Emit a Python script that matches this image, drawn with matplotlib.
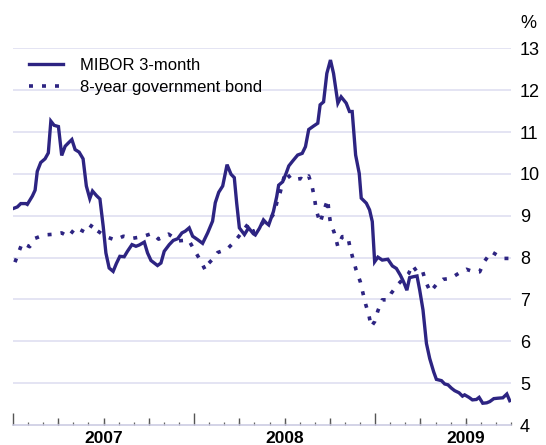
import matplotlib
matplotlib.use("Agg")
import matplotlib.pyplot as plt
from matplotlib.ticker import FixedLocator, NullFormatter

plt.rcParams['font.family'] = ['Liberation Sans', 'DejaVu Sans']

# dates as decimal years, values in %
mibor_t = [2007.000, 2007.024, 2007.043, 2007.070, 2007.079, 2007.107, 2007.122, 2007.134,
           2007.153, 2007.177, 2007.195, 2007.209, 2007.227, 2007.251, 2007.269, 2007.288,
           2007.306, 2007.325, 2007.343, 2007.365, 2007.387, 2007.405, 2007.424, 2007.439,
           2007.461, 2007.480, 2007.498, 2007.513, 2007.531, 2007.553, 2007.571, 2007.590,
           2007.614, 2007.632, 2007.657, 2007.679, 2007.697, 2007.725, 2007.743, 2007.762,
           2007.798, 2007.817, 2007.835, 2007.863, 2007.885, 2007.909, 2007.933, 2007.951,
           2007.973, 2007.992, 2008.019, 2008.047, 2008.075, 2008.102, 2008.117, 2008.136,
           2008.158, 2008.182, 2008.204, 2008.222, 2008.235, 2008.250, 2008.278, 2008.301,
           2008.327, 2008.338, 2008.361, 2008.383, 2008.398, 2008.412, 2008.438, 2008.456,
           2008.467, 2008.489, 2008.508, 2008.523, 2008.545, 2008.572, 2008.597, 2008.615,
           2008.633, 2008.659, 2008.683, 2008.696, 2008.715, 2008.733, 2008.753, 2008.770,
           2008.794, 2008.812, 2008.840, 2008.858, 2008.873, 2008.892, 2008.912, 2008.923,
           2008.951, 2008.969, 2008.984, 2008.997, 2009.015, 2009.039, 2009.070, 2009.095,
           2009.117, 2009.139, 2009.157, 2009.175, 2009.190, 2009.208, 2009.231, 2009.246,
           2009.264, 2009.283, 2009.301, 2009.323, 2009.338, 2009.366, 2009.384, 2009.402,
           2009.421, 2009.439, 2009.463, 2009.482, 2009.494, 2009.518, 2009.537, 2009.559,
           2009.574, 2009.594, 2009.616, 2009.633, 2009.655, 2009.677, 2009.705, 2009.727,
           2009.743]
mibor = [9.17, 9.21, 9.29, 9.29, 9.27, 9.47, 9.61, 10.06,
         10.27, 10.36, 10.50, 11.26, 11.16, 11.13, 10.44, 10.66,
         10.74, 10.82, 10.58, 10.52, 10.36, 9.71, 9.41, 9.59,
         9.48, 9.40, 8.75, 8.11, 7.75, 7.67, 7.86, 8.03,
         8.02, 8.15, 8.31, 8.27, 8.30, 8.37, 8.11, 7.93,
         7.81, 7.87, 8.15, 8.31, 8.41, 8.45, 8.59, 8.63,
         8.71, 8.51, 8.43, 8.34, 8.59, 8.87, 9.31, 9.56,
         9.71, 10.22, 9.99, 9.91, 9.31, 8.71, 8.55, 8.71,
         8.57, 8.54, 8.70, 8.90, 8.83, 8.78, 9.10, 9.45,
         9.73, 9.81, 10.01, 10.19, 10.31, 10.45, 10.49, 10.65,
         11.06, 11.14, 11.21, 11.65, 11.72, 12.40, 12.72, 12.40,
         11.69, 11.84, 11.69, 11.49, 11.49, 10.45, 10.01, 9.42,
         9.30, 9.14, 8.86, 7.90, 8.01, 7.94, 7.96, 7.80,
         7.74, 7.58, 7.42, 7.22, 7.52, 7.54, 7.56, 7.22,
         6.75, 5.95, 5.59, 5.27, 5.09, 5.06, 4.98, 4.96,
         4.88, 4.82, 4.77, 4.69, 4.72, 4.66, 4.60, 4.61,
         4.66, 4.52, 4.53, 4.56, 4.63, 4.64, 4.65, 4.74,
         4.58]

bond_t = [2007.011, 2007.029, 2007.051, 2007.092, 2007.122, 2007.171, 2007.232, 2007.269,
          2007.306, 2007.347, 2007.405, 2007.439, 2007.466, 2007.513, 2007.564, 2007.610,
          2007.660, 2007.715, 2007.770, 2007.804, 2007.859, 2007.914, 2007.970, 2008.001,
          2008.034, 2008.062, 2008.080, 2008.102, 2008.130, 2008.182, 2008.228, 2008.268,
          2008.301, 2008.327, 2008.351, 2008.379, 2008.416, 2008.444, 2008.456, 2008.475,
          2008.504, 2008.541, 2008.591, 2008.609, 2008.633, 2008.652, 2008.665, 2008.674,
          2008.696, 2008.715, 2008.738, 2008.744, 2008.752, 2008.775, 2008.794, 2008.818,
          2008.849, 2008.862, 2008.877, 2008.895, 2008.918, 2008.932, 2008.947, 2008.965,
          2008.978, 2008.997, 2009.015, 2009.039, 2009.070, 2009.089, 2009.126, 2009.157,
          2009.185, 2009.205, 2009.231, 2009.260, 2009.279, 2009.305, 2009.340, 2009.374,
          2009.415, 2009.467, 2009.504, 2009.544, 2009.577, 2009.605, 2009.642, 2009.673,
          2009.703, 2009.734, 2009.743]
bond = [7.89, 8.10, 8.35, 8.26, 8.46, 8.54, 8.56, 8.59,
        8.50, 8.72, 8.59, 8.80, 8.64, 8.50, 8.42, 8.51,
        8.46, 8.50, 8.58, 8.44, 8.56, 8.40, 8.42, 8.18,
        7.94, 7.70, 7.86, 7.96, 8.12, 8.20, 8.40, 8.63,
        8.82, 8.62, 8.66, 8.83, 8.90, 9.07, 9.30, 9.55,
        10.05, 9.85, 9.89, 9.84, 9.95, 9.69, 9.42, 9.14,
        8.83, 9.10, 9.39, 9.10, 8.86, 8.58, 8.26, 8.50,
        8.50, 8.22, 7.98, 7.70, 7.42, 7.16, 6.89, 6.63,
        6.35, 6.47, 6.73, 6.99, 6.99, 7.15, 7.36, 7.50,
        7.62, 7.82, 7.66, 7.70, 7.42, 7.18, 7.37, 7.48,
        7.50, 7.64, 7.72, 7.66, 7.66, 7.92, 8.14, 8.06,
        7.98, 7.98, 7.98]

years = [2007, 2008, 2009]
y_ticks = [4, 5, 6, 7, 8, 9, 10, 11, 12, 13]

navy = '#2d2482'
grid_col = '#dcdcf0'

fig = plt.figure(figsize=(5.46, 4.45), dpi=100)
ax = fig.add_axes([13 / 546, 20 / 445, 498 / 546, 376.7 / 445])

for v in y_ticks[1:]:
    ax.axhline(v, color=grid_col, lw=1.1, zorder=0)

ax.plot(bond_t, bond, color=navy, lw=2.6, linestyle=(0, (1.1, 2.5)),
        dash_capstyle='butt', label='8-year government bond', zorder=2)
ax.plot(mibor_t, mibor, color=navy, lw=2.4, solid_joinstyle='miter',
        label='MIBOR 3-month', zorder=3)

ax.set_xlim(2007, 2009.75)
ax.set_ylim(4, 13)

for s in ['top', 'left', 'right']:
    ax.spines[s].set_visible(False)
ax.spines['bottom'].set_color('#c8c8e0')
ax.spines['bottom'].set_linewidth(1.1)

# y labels on the right
ax.yaxis.tick_right()
ax.set_yticks(y_ticks)
ax.set_yticklabels([str(v) for v in y_ticks])
ax.tick_params(axis='y', length=0, pad=6.5, labelsize=13)

# x ticks: years tall, months short, quarters medium
months = [2007 + m / 12 for m in range(0, 34)]
ax.xaxis.set_major_locator(FixedLocator(years))
ax.xaxis.set_minor_locator(FixedLocator([m for m in months if m not in years]))
ax.xaxis.set_major_formatter(NullFormatter())
ax.tick_params(axis='x', which='major', direction='in', length=8.5, width=1, color='#555555')
ax.tick_params(axis='x', which='minor', direction='in', length=2.5, width=0.9, color='#666666')
quarters = [2007 + q / 4 for q in range(1, 11) if (2007 + q / 4) not in years]
sec = ax.secondary_xaxis('bottom')
sec.set_xticks(quarters)
sec.set_xticklabels([])
sec.tick_params(direction='in', length=5, width=1, color='#555555')
sec.spines['bottom'].set_visible(False)

for yr in years:
    ax.text(yr + 0.5, -0.035, str(yr), transform=ax.get_xaxis_transform(),
            ha='center', va='center', fontsize=12.5, fontweight='bold')

fig.text(520 / 546, 1 - 24 / 445, '%', ha='left', va='center', fontsize=13)

h, l = ax.get_legend_handles_labels()
ax.legend(h[::-1], l[::-1], loc='upper left', bbox_to_anchor=(29 / 546, 1 - 58 / 445),
          bbox_transform=fig.transFigure, frameon=False, fontsize=12,
          handlelength=2.05, handletextpad=1.0, labelspacing=0.4,
          borderpad=0, borderaxespad=0)

fig.savefig('out.png', dpi=100)
